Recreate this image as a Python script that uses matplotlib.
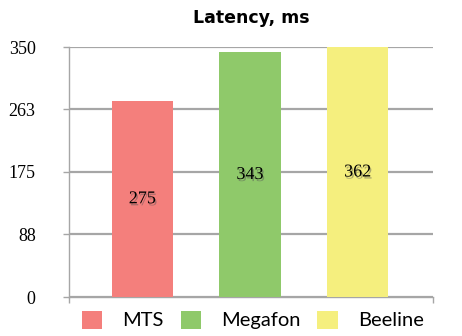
import matplotlib
matplotlib.use("Agg")
import matplotlib.pyplot as plt
import matplotlib.patheffects as pe
from matplotlib.patches import Patch

# ── data ──────────────────────────────────────────
operators = ["MTS", "Megafon", "Beeline"]
latency = [275, 343, 362]
colors = ["#F47F7C", "#8FC96A", "#F5EF7E"]
y_ticks = [0, 88, 175, 263, 350]
y_max = 350

fig = plt.figure(figsize=(4.62, 3.36), dpi=100)
ax = fig.add_axes([69 / 462, 1 - 297 / 336, 364 / 462, 250 / 336])

x = list(range(len(operators)))
ax.bar(x, latency, width=0.57, color=colors, zorder=3)
ax.set_xlim(-0.68, 2.70)
ax.set_ylim(0, y_max)

ax.set_yticks(y_ticks)
ax.set_yticklabels([str(t) for t in y_ticks], family="Liberation Serif", fontsize=13)
ax.yaxis.grid(True, color="#A6A6A6", linewidth=1.6, zorder=0)
ax.tick_params(axis="y", length=4, color="#A6A6A6", width=1, pad=20)
ax.set_xticks([-0.68, 2.70])
ax.set_xticklabels([])
ax.tick_params(axis="x", length=4, color="#A6A6A6", width=1)

for side in ("top", "right"):
    ax.spines[side].set_visible(False)
for side in ("left", "bottom"):
    ax.spines[side].set_color("#A6A6A6")
    ax.spines[side].set_linewidth(1)

shadow = [pe.SimplePatchShadow(offset=(1, -1.5), shadow_rgbFace="#555555", alpha=0.45), pe.Normal()]
for xi, v in zip(x, latency):
    ax.text(xi, min(v, y_max) / 2, str(v), ha="center", va="center",
            family="Liberation Serif", fontsize=13, color="black",
            path_effects=shadow, zorder=4)

ax.set_title("Latency, ms", fontsize=12.5, fontweight="bold",
             family="DejaVu Sans", pad=17)

handles = [Patch(facecolor=c, edgecolor="none") for c in colors]
fig.legend(handles, operators, loc="center", bbox_to_anchor=(0.547, 1 - 320 / 336),
           ncol=3, frameon=False, prop={"family": "Lato", "size": 14.5},
           handlelength=1.0, handleheight=1.0, handletextpad=1.0, columnspacing=0.85)

fig.savefig("out.png", dpi=100)
